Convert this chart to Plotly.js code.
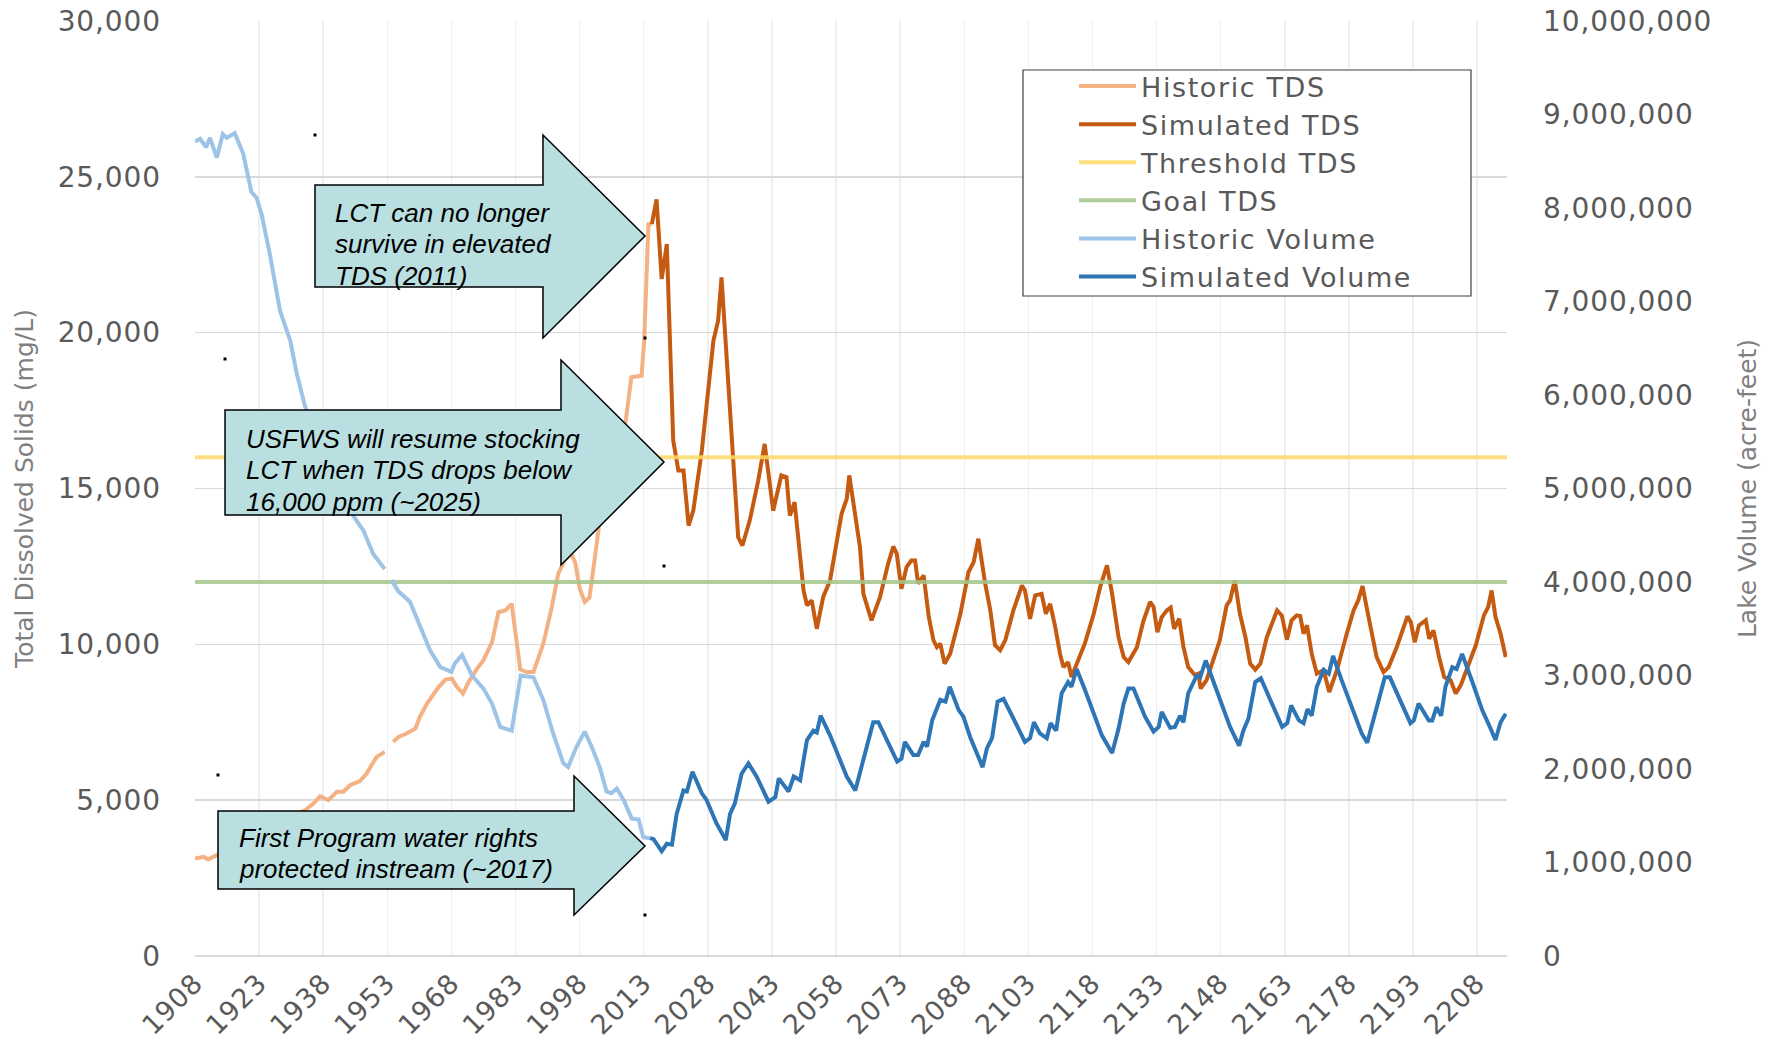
<!DOCTYPE html>
<html>
<head>
<meta charset="utf-8">
<script src="https://cdn.plot.ly/plotly-3.0.1.min.js"></script>
<style>
html,body{margin:0;padding:0;background:#ffffff;}
#chart{width:1781px;height:1042px;}
.legendtext{letter-spacing:1.6px;}
#chart .ytick text, #chart .y2tick text, #chart .xtick text{letter-spacing:0.9px;}
</style>
</head>
<body>
<div id="chart"></div>
<script>
// ---------------- DATA ----------------
const xTickYears = [1908,1923,1938,1953,1968,1983,1998,2013,2028,2043,2058,2073,2088,2103,2118,2133,2148,2163,2178,2193,2208];
const xTickLabels = ["1908","1923","1938","1953","1968","1983","1998","2013","2028","2043","2058","2073","2088","2103","2118","2133","2148","2163","2178","2193","2208"];

const historicTdsYears = [1908.0,1910.0,1911.1,1913.1,1933.8,1935.7,1937.3,1939.2,1941.2,1942.7,1944.3,1946.6,1948.2,1949.3,1950.5,1952.4,1953.2,1954.4,1955.6,1957.5,1959.6,1960.6,1962.3,1965.0,1966.6,1968.1,1969.3,1970.7,1972.0,1974.0,1975.5,1977.5,1979.0,1980.6,1982.1,1984.1,1985.6,1987.2,1989.5,1991.5,1993.0,1994.5,1996.1,1997.0,1998.0,1999.2,2000.3,2001.2,2002.7,2008.8,2010.1,2012.5,2013.1,2014.1,2014.9];
const historicTds = [3130,3180,3100,3240,4680,4890,5130,5000,5270,5270,5480,5610,5860,6120,6390,6550,null,6870,7030,7140,7300,7670,8100,8630,8870,8900,8630,8420,8790,9220,9490,10070,11030,11090,11300,9200,9110,9110,10020,11200,12270,12700,12900,12600,11800,11360,11500,12400,13970,17180,18570,18620,19740,23480,23480];

const simulatedTdsYears = [2014.9,2016.0,2017.2,2018.4,2019.9,2021.1,2022.3,2023.5,2024.6,2026.6,2029.3,2030.4,2031.2,2033.2,2035.1,2036.1,2037.8,2039.8,2041.3,2043.3,2045.2,2046.4,2047.2,2048.3,2050.4,2051.2,2052.3,2053.5,2055.0,2056.6,2059.3,2060.5,2061.1,2063.6,2064.4,2066.3,2068.3,2070.2,2071.4,2072.2,2073.3,2074.5,2075.6,2076.5,2077.2,2078.5,2079.7,2080.8,2081.6,2082.4,2083.4,2084.7,2087.1,2089.0,2090.2,2091.3,2092.9,2094.1,2095.2,2096.4,2097.6,2099.5,2101.5,2102.2,2103.4,2104.6,2106.1,2107.1,2108.1,2109.3,2110.4,2111.2,2112.3,2113.1,2114.3,2116.2,2118.3,2119.8,2121.4,2122.6,2124.1,2125.3,2126.4,2128.4,2129.9,2131.5,2132.3,2133.2,2134.2,2135.4,2136.3,2137.1,2138.3,2139.3,2140.4,2142.0,2142.8,2143.3,2144.7,2146.3,2147.8,2149.4,2150.2,2151.3,2152.5,2153.8,2154.9,2156.1,2157.3,2158.8,2161.2,2162.3,2163.5,2164.6,2165.8,2166.6,2167.4,2168.2,2169.3,2170.5,2172.1,2173.4,2175.2,2177.5,2179.1,2180.2,2181.2,2182.6,2184.5,2186.1,2187.3,2189.2,2191.7,2192.5,2193.4,2194.4,2196.0,2196.8,2197.8,2199.1,2200.3,2201.8,2203.0,2204.2,2205.7,2207.7,2209.6,2210.6,2211.4,2212.3,2213.5,2214.7];
const simulatedTds = [23480,24280,21720,22840,16540,15580,15580,13810,14290,16220,19740,20380,21770,17710,13440,13170,13970,15260,16430,14290,15420,15360,14130,14560,11730,11250,11410,10500,11520,12050,14190,14670,15420,13120,11620,10770,11520,12590,13140,12910,11780,12480,12690,12690,11950,12210,10880,10130,9910,10020,9380,9700,10980,12320,12640,13390,11950,11090,9970,9810,10130,11090,11890,11730,10820,11570,11620,10980,11300,10550,9700,9270,9430,8950,9380,10020,10980,11840,12530,11620,10230,9590,9430,9910,10740,11360,11200,10390,10870,11090,11180,10500,10820,9910,9270,9010,9060,8580,8850,9490,10130,11250,11410,12050,10980,10230,9380,9190,9380,10230,11090,10930,10150,10770,10930,10910,10340,10610,9700,9060,9170,8470,9170,10340,11090,11410,11870,10880,9590,9110,9270,9910,10900,10710,10070,10610,10770,10180,10450,9590,8950,8850,8420,8690,9270,9970,10930,11200,11730,10880,10340,9590];

const thresholdYears = [1908, 2215];
const thresholdTds = [16000, 16000];
const goalYears = [1908, 2215];
const goalTds = [12000, 12000];

const historicVolumeYears = [1908.0,1909.2,1910.6,1911.5,1913.1,1914.5,1915.4,1917.3,1919.3,1921.2,1922.4,1923.6,1925.5,1927.9,1930.3,1931.8,1933.8,1945.0,1947.4,1949.7,1952.4,1953.2,1954.0,1955.6,1958.3,1959.8,1960.6,1963.0,1965.4,1968.0,1968.8,1970.5,1972.8,1975.5,1977.5,1979.4,1982.1,1984.2,1987.2,1989.5,1991.8,1994.2,1995.3,1997.3,1999.2,2000.8,2002.7,2004.3,2005.4,2006.7,2008.3,2010.2,2011.8,2012.9,2014.5];
const historicVolume = [8710000,8740000,8650000,8750000,8540000,8790000,8750000,8800000,8580000,8170000,8110000,7930000,7510000,6900000,6580000,6230000,5870000,4710000,4550000,4300000,4140000,null,4020000,3900000,3790000,3620000,3520000,3270000,3090000,3040000,3130000,3220000,3000000,2860000,2700000,2450000,2410000,3000000,2980000,2740000,2380000,2060000,2020000,2240000,2400000,2240000,2020000,1760000,1740000,1790000,1670000,1470000,1460000,1270000,1260000];

const simulatedVolumeYears = [2014.5,2015.3,2017.2,2018.4,2019.6,2020.7,2022.3,2023.1,2024.4,2026.6,2027.7,2030.0,2032.2,2033.2,2034.3,2035.9,2037.5,2039.4,2042.2,2043.8,2044.6,2046.9,2048.1,2049.6,2051.2,2052.7,2053.5,2054.4,2056.6,2058.9,2060.5,2062.5,2064.0,2065.2,2066.7,2067.9,2070.2,2072.3,2073.3,2074.1,2076.1,2077.2,2078.5,2079.3,2080.5,2082.4,2083.6,2084.6,2086.7,2087.8,2089.4,2091.3,2092.3,2093.3,2094.5,2095.8,2097.2,2099.5,2102.2,2103.4,2104.3,2105.7,2107.3,2108.2,2109.5,2110.8,2112.3,2113.1,2114.3,2116.3,2118.3,2120.2,2122.6,2124.1,2125.3,2126.4,2127.6,2130.3,2132.3,2133.5,2134.2,2136.2,2137.3,2138.5,2139.3,2140.4,2142.4,2143.2,2144.5,2146.7,2147.8,2150.2,2152.3,2153.3,2154.5,2156.1,2157.4,2159.7,2162.4,2163.6,2164.5,2166.3,2167.4,2168.3,2169.3,2170.5,2172.1,2173.3,2174.3,2176.3,2178.3,2179.8,2181.0,2182.3,2183.3,2184.5,2186.4,2187.6,2189.9,2192.4,2193.2,2194.3,2196.7,2197.5,2198.5,2199.6,2200.6,2202.2,2203.2,2204.5,2206.9,2209.2,2210.8,2212.3,2213.5,2214.7];
const simulatedVolume = [1260000,1250000,1120000,1200000,1190000,1520000,1770000,1760000,1970000,1740000,1670000,1420000,1240000,1520000,1630000,1950000,2060000,1920000,1650000,1700000,1900000,1760000,1920000,1880000,2310000,2410000,2390000,2570000,2360000,2110000,1920000,1770000,2040000,2240000,2500000,2500000,2270000,2080000,2110000,2290000,2150000,2150000,2290000,2240000,2520000,2740000,2720000,2880000,2630000,2560000,2340000,2130000,2020000,2220000,2330000,2720000,2750000,2540000,2290000,2330000,2500000,2380000,2330000,2490000,2410000,2810000,2930000,2880000,3070000,2840000,2590000,2360000,2170000,2430000,2700000,2860000,2860000,2560000,2400000,2450000,2610000,2440000,2450000,2570000,2500000,2810000,3000000,2980000,3160000,2880000,2770000,2450000,2250000,2410000,2540000,2930000,2970000,2740000,2450000,2490000,2680000,2520000,2490000,2640000,2570000,2880000,3060000,3020000,3210000,2950000,2700000,2540000,2380000,2280000,2450000,2630000,2980000,2980000,2740000,2490000,2520000,2700000,2520000,2520000,2660000,2570000,2880000,3090000,3070000,3230000,2930000,2630000,2470000,2310000,2500000,2590000];

const seriesNames = ["Historic TDS","Simulated TDS","Threshold TDS","Goal TDS","Historic Volume","Simulated Volume"];

// ---------------- LAYOUT HELPERS ----------------
const W = 1781, H = 1042;
const M = {l:195, r:274, t:21, b:86};
const PW = W - M.l - M.r, PH = H - M.t - M.b;
const px = v => (v - M.l) / PW;
const py = v => (H - M.b - v) / PH;

const FONT = "DejaVu Sans, Verdana, sans-serif";
const TICK = {family: FONT, size: 28, color: "#595959"};
const XTICK = {family: FONT, size: 27, color: "#595959"};

function line(x, y, name, color, axis, extra) {
  return Object.assign({
    type: "scatter", mode: "lines", x: x, y: y, name: name, yaxis: axis,
    connectgaps: false, hoverinfo: "skip",
    line: {color: color, width: 4}
  }, extra || {});
}

const traces = [
  line(historicTdsYears, historicTds, seriesNames[0], "#f4b183", "y"),
  line(simulatedTdsYears, simulatedTds, seriesNames[1], "#c55a11", "y"),
  line(thresholdYears, thresholdTds, seriesNames[2], "#ffd966", "y", {opacity: 0.85}),
  line(goalYears, goalTds, seriesNames[3], "#a3c48a", "y", {opacity: 0.85}),
  line(historicVolumeYears, historicVolume, seriesNames[4], "#9dc3e6", "y2"),
  line(simulatedVolumeYears, simulatedVolume, seriesNames[5], "#2e75b6", "y2")
];

// legend frame (decoration, in figure pixels)
const shapes = [{
  type: "rect", xref: "paper", yref: "paper", layer: "above",
  x0: px(1023), x1: px(1471), y0: py(296), y1: py(70),
  fillcolor: "#ffffff", line: {color: "#404040", width: 1.2}
}];

// block arrows (decoration, in figure pixels)
const arrows = [
  [[315,185],[543,185],[543,135],[645,236],[543,338],[543,287],[315,287]],
  [[225,410],[561,410],[561,360],[664,462],[561,565],[561,515],[225,515]],
  [[218,811],[574,811],[574,776],[645,846],[574,915],[574,889],[218,889]]
];
arrows.forEach(pts => shapes.push({
  type: "path", xref: "paper", yref: "paper", layer: "above",
  path: "M " + pts.map(p => px(p[0]).toFixed(5) + "," + py(p[1]).toFixed(5)).join(" L ") + " Z",
  fillcolor: "#b9dfe1", line: {color: "#000000", width: 1.5}
}));
const dots = [[315,135],[225,359],[218,775],[645,338],[664,566],[645,915]];
dots.forEach(d => shapes.push({
  type: "rect", xref: "paper", yref: "paper", layer: "above",
  x0: px(d[0]-1.5), x1: px(d[0]+1.5), y0: py(d[1]+1.5), y1: py(d[1]-1.5),
  fillcolor: "#000000", line: {width: 0}
}));

const noteLines = [
  ["LCT can no longer", 333, 213],
  ["survive in elevated", 333, 244],
  ["TDS (2011)", 333, 276],
  ["USFWS will resume stocking", 244, 439],
  ["LCT when TDS drops below", 244, 470],
  ["16,000 ppm (~2025)", 244, 502],
  ["First Program water rights", 237, 838],
  ["protected instream (~2017)", 237, 869]
];
const annotations = noteLines.map(n => ({
  text: n[0], xref: "paper", yref: "paper", x: px(n[1]), y: py(n[2]),
  xanchor: "left", yanchor: "middle", showarrow: false, align: "left",
  font: {family: "Liberation Sans, Arial, sans-serif", size: 26, color: "#000000", style: "italic"}
}));

const layout = {
  width: W, height: H,
  margin: {l: M.l, r: M.r, t: M.t, b: M.b, pad: 0},
  paper_bgcolor: "#ffffff", plot_bgcolor: "#ffffff",
  showlegend: true,
  font: {family: FONT, color: "#595959"},
  xaxis: {
    type: "linear", range: [1908, 2215], autorange: false,
    tickmode: "array", tickvals: xTickYears, ticktext: xTickLabels,
    tickangle: -45, tickfont: XTICK, ticks: "", ticklabelstandoff: 5,
    showgrid: true, gridcolor: "#efefef", gridwidth: 1.5,
    zeroline: false, showline: false, automargin: false
  },
  yaxis: {
    range: [0, 30000], autorange: false, tick0: 0, dtick: 5000, tickformat: ",d",
    tickfont: TICK, ticks: "", ticklabelstandoff: 33,
    showgrid: true, gridcolor: "#d9d9d9", gridwidth: 1.5,
    zeroline: true, zerolinecolor: "#d9d9d9", zerolinewidth: 2, showline: false,
    automargin: false,
    title: {text: "Total Dissolved Solids (mg/L)", font: {family: FONT, size: 25, color: "#7f7f7f"}, standoff: 22}
  },
  yaxis2: {
    overlaying: "y", side: "right",
    range: [0, 10000000], autorange: false, tick0: 0, dtick: 1000000, tickformat: ",d",
    tickfont: TICK, ticks: "", ticklabelstandoff: 35,
    showgrid: false, zeroline: false, showline: false, automargin: false,
    title: {text: "Lake Volume (acre-feet)", font: {family: FONT, size: 25, color: "#7f7f7f"}, standoff: 36}
  },
  legend: {
    x: px(1074), y: py(62), xanchor: "left", yanchor: "top",
    bgcolor: "rgba(0,0,0,0)", borderwidth: 0,
    font: {family: FONT, size: 27, color: "#595959"},
    itemwidth: 57, tracegroupgap: 0, traceorder: "normal"
  },
  shapes: shapes,
  annotations: annotations
};

Plotly.newPlot("chart", traces, layout, {displayModeBar: false, staticPlot: true});
</script>
</body>
</html>
